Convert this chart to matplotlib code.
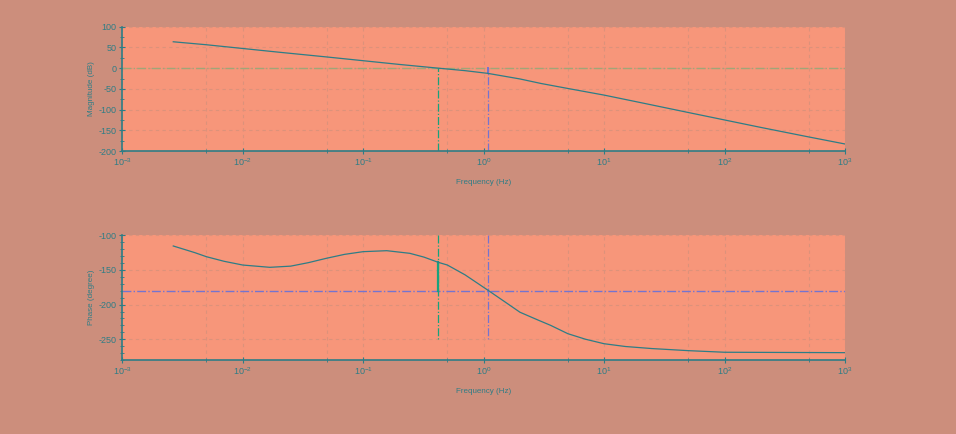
import numpy as np
import matplotlib
matplotlib.use("Agg")
import matplotlib.pyplot as plt
from matplotlib.ticker import FixedLocator, NullFormatter, MultipleLocator

# values (Hz, dB)
mag_freq = [2.65e-3, 5e-3, 1e-2, 2e-2, 5e-2, 0.1, 0.2, 0.42, 0.7, 1.08,
            2.0, 3.0, 5.0, 10.0, 20.0, 50.0, 100.0, 200.0, 500.0, 1000.0]
mag_db = [63.7, 56.5, 47.5, 38.5, 27.0, 18.0, 9.0, 0.0, -6.0, -12.5,
          -26.0, -37.0, -49.0, -65.0, -83.0, -107.0, -125.0, -143.0, -166.0, -183.0]

# (Hz, degree)
ph_freq = [2.65e-3, 4e-3, 5e-3, 7e-3, 1e-2, 0.0168, 0.025, 0.035, 0.05, 0.07,
           0.1, 0.157, 0.244, 0.32, 0.42, 0.5, 0.7, 1.08, 1.5, 2.0, 2.8, 3.6, 5.0,
           7.0, 10.0, 15.0, 25.0, 50.0, 100.0, 1000.0]
phase_deg = [-115.4, -125.0, -130.9, -137.5, -142.9, -146.2, -144.5, -139.5, -133.0, -127.5,
             -123.6, -122.2, -126.0, -131.5, -139.0, -142.9, -157.0, -179.0, -196.0, -211.0,
             -222.0, -230.0, -242.0, -250.0, -256.5, -260.5, -263.5, -266.5, -268.8, -269.4]

f_gain = 0.42      # gain crossover
f_phase = 1.08     # phase crossover
gm_db = -12.5      # magnitude at phase crossover
pm_deg = -139.0    # phase at gain crossover

fig_bg = "#CC8E7C"
ax_bg = "#F7967A"
teal = "#2E7D86"
grid_c = "#DC927A"
green = "#17A27C"
purple = "#7474D0"
olive = "#A0A678"

plt.rcParams["font.family"] = ["Liberation Sans", "DejaVu Sans"]
plt.rcParams["axes.unicode_minus"] = False

fig = plt.figure(figsize=(9.56, 4.34), dpi=100, facecolor=fig_bg)
ax1 = fig.add_axes([0.1279, 0.652, 0.756, 0.2864])
ax2 = fig.add_axes([0.1279, 0.1705, 0.756, 0.2873])


def style(ax, ylim, ymajor, yminor, ylabel):
    ax.set_facecolor(ax_bg)
    ax.set_xscale("log")
    ax.set_xlim(1e-3, 1e3)
    ax.set_ylim(*ylim)
    ax.xaxis.set_major_locator(FixedLocator([10.0 ** k for k in range(-3, 4)]))
    ax.xaxis.set_minor_locator(FixedLocator([5 * 10.0 ** k for k in range(-3, 3)]))
    ax.xaxis.set_minor_formatter(NullFormatter())
    ax.yaxis.set_major_locator(MultipleLocator(ymajor))
    ax.yaxis.set_minor_locator(MultipleLocator(yminor))
    ax.grid(True, which="both", axis="x", ls=(0, (3, 3)), color=grid_c, lw=0.8)
    ax.grid(True, which="major", axis="y", ls=(0, (3, 3)), color=grid_c, lw=0.8)
    for s in ["top", "right"]:
        ax.spines[s].set_visible(False)
    for s in ["left", "bottom"]:
        ax.spines[s].set_color(teal)
        ax.spines[s].set_linewidth(1.2)
    ax.tick_params(which="major", direction="inout", length=5, width=0.8,
                   colors=teal, labelsize=6.5, pad=1.5)
    ax.tick_params(which="minor", direction="inout", length=3, width=0.6, colors=teal)
    ax.set_xlabel("Frequency (Hz)", fontsize=5.8, color=teal, labelpad=8)
    ax.set_ylabel(ylabel, fontsize=5.8, color=teal, labelpad=3)
    ax.set_axisbelow(True)


style(ax1, (-200, 100), 50, 25, "Magnitude (dB)")
style(ax2, (-280, -100), 50, 10, "Phase (degree)")

# magnitude
ax1.axhline(0, color=olive, ls="-.", lw=1.0)
ax1.plot([f_gain, f_gain], [-200, 0], color=green, ls="-.", lw=0.9)
ax1.plot([f_phase, f_phase], [-200, 0], color=purple, ls="-.", lw=0.9)
ax1.plot([f_phase, f_phase], [0, gm_db], color=purple, ls="-", lw=1.4)
ax1.plot(mag_freq, mag_db, color=teal, lw=0.9)

# phase
ax2.axhline(-180, color=purple, ls="-.", lw=1.0)
ax2.plot([f_gain, f_gain], [-100, -250], color=green, ls="-.", lw=0.9)
ax2.plot([f_phase, f_phase], [-100, -250], color=purple, ls="-.", lw=0.9)
ax2.plot([f_gain, f_gain], [pm_deg, -180], color=green, ls="-", lw=1.6)
ax2.plot(ph_freq, phase_deg, color=teal, lw=0.9)

fig.savefig("out.png", dpi=100, facecolor=fig_bg)
